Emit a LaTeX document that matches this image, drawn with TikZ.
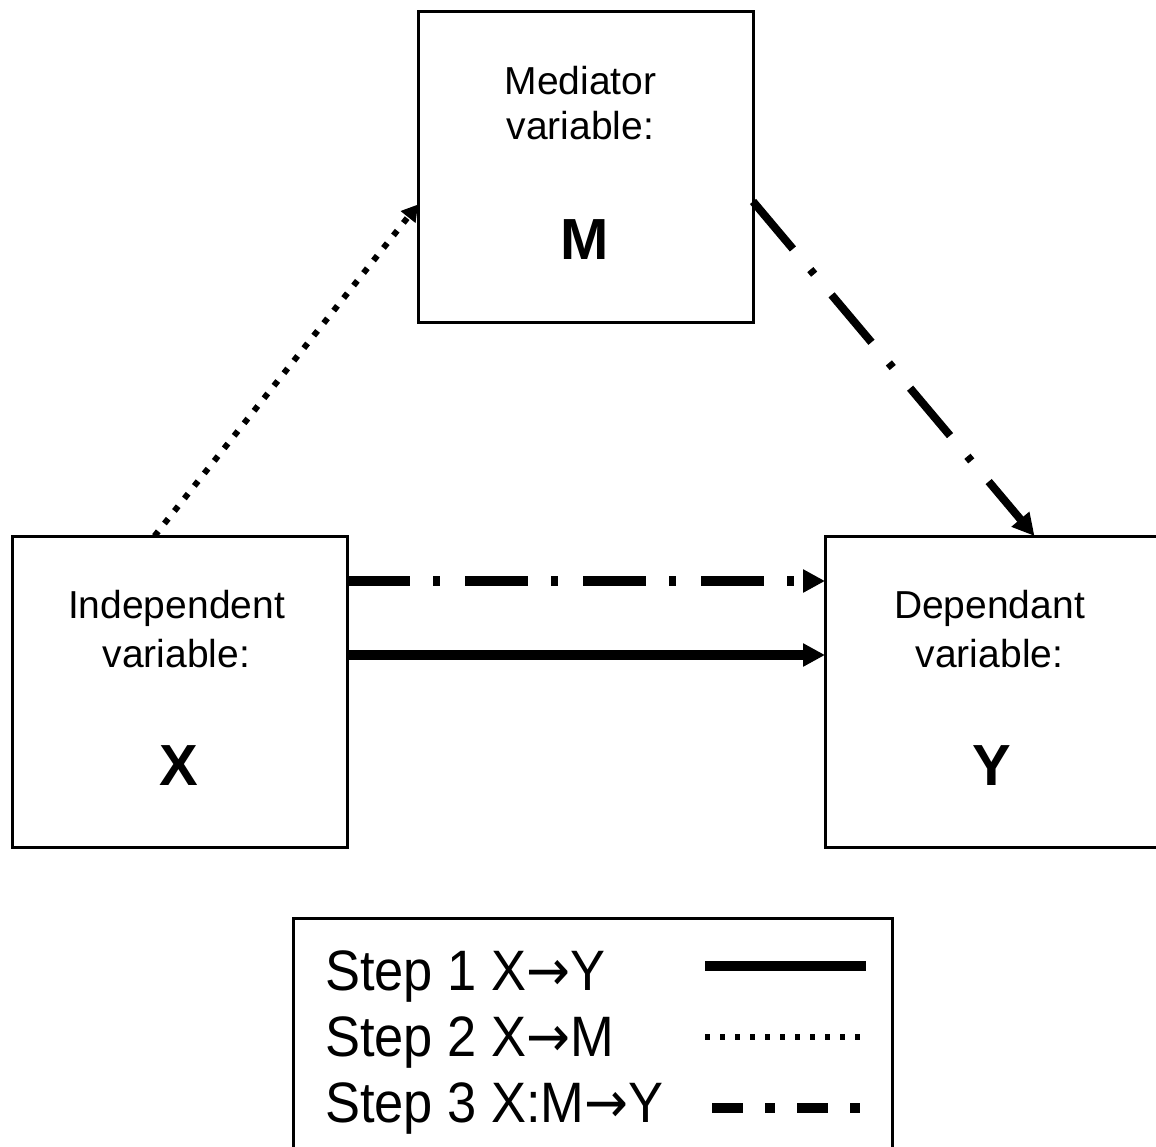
\documentclass[tikz,border=0pt]{standalone}
\usepackage{fontspec}
\setmainfont{Liberation Sans}
\newfontfamily\legfont[FakeStretch=0.92]{Liberation Sans}
\newfontfamily\arrowfont[FakeStretch=0.92]{DejaVu Sans}
\newcommand\legarrow{{\arrowfont →}}
\usetikzlibrary{arrows.meta}
\begin{document}
\begin{tikzpicture}[x=1pt,y=-1pt,
  varbox/.style={draw,line width=3pt,minimum width=335pt,minimum height=311pt,inner sep=0pt,outer sep=0pt},
  lbl/.style={anchor=base,font=\fontsize{39}{44}\selectfont,inner sep=0pt},
  big/.style={anchor=base,font=\fontsize{58}{64}\selectfont\bfseries,inner sep=0pt},
  legtxt/.style={anchor=base west,font=\legfont\fontsize{57}{64}\selectfont,inner sep=0pt},
  solidarrow/.style={line width=10pt,-{Triangle[length=22pt,width=22pt]}},
  dashdotarrow/.style={line width=10pt,dash pattern=on 63pt off 23pt on 7pt off 25pt,-{Triangle[length=22pt,width=22pt]}},
  diagdasharrow/.style={line width=8pt,dash pattern=on 62pt off 27pt on 6pt off 27pt,-{Triangle[length=22pt,width=22pt]}},
  dotarrow/.style={line width=6pt,dash pattern=on 6pt off 10pt,-{Triangle[length=16pt,width=18pt]}},
  legsolid/.style={line width=10pt},
  legdot/.style={line width=6pt,dash pattern=on 5pt off 10pt},
  legdashdot/.style={line width=10pt,dash pattern=on 31pt off 22pt on 10pt off 22pt}
]
\useasboundingbox (0,0) rectangle (1156,1146);
\fill[white] (0,0) rectangle (1156,1146);

% boxes
\node[varbox] (M) at (585.5,166.5) {};
\node[varbox] (X) at (179.5,691.5) {};
\node[varbox] (Y) at (992.5,691.5) {};

% labels
\node[lbl] (mt1) at ([xshift=-5pt,yshift=-83pt]M.north) {Mediator};
\node[lbl] (mt2) at ([xshift=-5pt,yshift=-128pt]M.north) {variable:};
\node[big] (mt3) at ([xshift=-1pt,yshift=-248pt]M.north) {M};

\node[lbl] (xt1) at ([xshift=-3pt,yshift=-82pt]X.north) {Independent};
\node[lbl] (xt2) at ([xshift=-3pt,yshift=-131pt]X.north) {variable:};
\node[big] (xt3) at ([xshift=-1pt,yshift=-249pt]X.north) {X};

\node[lbl] (yt1) at ([xshift=-3pt,yshift=-82pt]Y.north) {Dependant};
\node[lbl] (yt2) at ([xshift=-3pt,yshift=-131pt]Y.north) {variable:};
\node[big] (yt3) at ([xshift=-1pt,yshift=-249pt]Y.north) {Y};

% connectors
\draw[dotarrow] ([xshift=-25pt]X.north) -- ([yshift=-38pt]M.west);
\draw[diagdasharrow] ([yshift=-35pt]M.east) -- ([xshift=42pt]Y.north);
\draw[dashdotarrow] ([yshift=110.5pt]X.east) -- ([yshift=110.5pt]Y.west);
\draw[solidarrow] ([yshift=36.5pt]X.east) -- ([yshift=36.5pt]Y.west);

% legend
\node[draw,line width=3pt,anchor=north west,minimum width=599pt,minimum height=245pt,inner sep=0pt,outer sep=0pt] (L) at (293,918) {};
\node[legtxt] (l1) at (325,990) {Step 1 X\legarrow Y};
\node[legtxt] (l2) at (325,1056) {Step 2 X\legarrow M};
\node[legtxt] (l3) at (325,1122) {Step 3 X:M\legarrow Y};
\coordinate (s1a) at (705,966); \coordinate (s1b) at (866,966);
\coordinate (s2a) at (705,1037); \coordinate (s2b) at (862,1037);
\coordinate (s3a) at (712,1108); \coordinate (s3b) at (866,1108);
\draw[legsolid] (s1a) -- (s1b);
\draw[legdot] (s2a) -- (s2b);
\draw[legdashdot] (s3a) -- (s3b);
\end{tikzpicture}
\end{document}
